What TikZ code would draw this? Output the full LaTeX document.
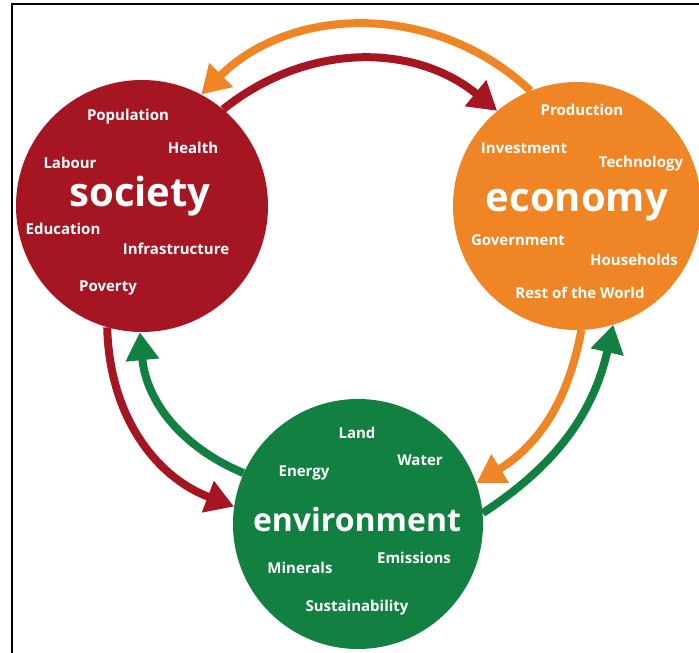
\documentclass[tikz,border=0pt]{standalone}
\usepackage{fontspec}
\setmainfont{Open Sans}
\usetikzlibrary{arrows.meta}
\definecolor{socred}{HTML}{A51622}
\definecolor{ecoorange}{HTML}{EF8524}
\definecolor{envgreen}{HTML}{128040}
\begin{document}
\begin{tikzpicture}[x=1pt,y=1pt,
  hub/.style={circle,inner sep=0pt,minimum size=#1},
  lbl/.style={text=white,font=\bfseries\fontsize{15}{15}\selectfont,inner sep=0pt},
  big/.style={text=white,font=\bfseries\fontsize{#1}{#1}\selectfont,inner sep=0pt},
  flow/.style={line width=8pt,-{Triangle[length=28pt,width=32pt]}}]
\useasboundingbox (0,0) rectangle (699,653);
\draw[line width=1.5pt] (12,-20) -- (12,649) -- (720,649);
% hubs
\node[hub=252pt,fill=socred] (soc) at (142,447) {};
\node[hub=248pt,fill=ecoorange] (eco) at (577,447) {};
\node[hub=250pt,fill=envgreen] (env) at (358,129) {};
% flows
\draw[flow,socred] (soc.50) to[bend left=39] (eco.130);
\draw[flow,ecoorange] (eco.112) to[bend right=44] (soc.62);
\draw[flow,socred] (soc.-106) to[bend right=34] (env.172);
\draw[flow,envgreen] (env.156) to[bend left=31] (soc.-91);
\draw[flow,ecoorange] (eco.-88) to[bend left=24] (env.19);
\draw[flow,envgreen] (env.5) to[bend right=22] (eco.-73);
% society labels
\node[lbl] (s1) at (128,536) {Population};
\node[lbl] (s2) at (193,505) {Health};
\node[lbl] (s3) at (70,490) {Labour};
\node[big=40] (s0) at (140,457) {society};
\node[lbl] (s4) at (63,424) {Education};
\node[lbl] (s5) at (176,404) {Infrastructure};
\node[lbl] (s6) at (108,365) {Poverty};
% economy labels
\node[lbl] (e1) at (582,543) {Production};
\node[lbl] (e2) at (524,505) {Investment};
\node[lbl] (e3) at (641,489) {Technology};
\node[big=40] (e0) at (577,448) {economy};
\node[lbl] (e4) at (518,413) {Government};
\node[lbl] (e5) at (634,393) {Households};
\node[lbl] (e6) at (580,360) {Rest of the World};
% environment labels
\node[lbl] (v1) at (357,220) {Land};
\node[lbl] (v2) at (420,193) {Water};
\node[lbl] (v3) at (304,180) {Energy};
\node[big=32] (v0) at (357,133) {environment};
\node[lbl] (v4) at (300,85) {Minerals};
\node[lbl] (v5) at (414,95) {Emissions};
\node[lbl] (v6) at (357,45) {Sustainability};
\end{tikzpicture}
\end{document}
